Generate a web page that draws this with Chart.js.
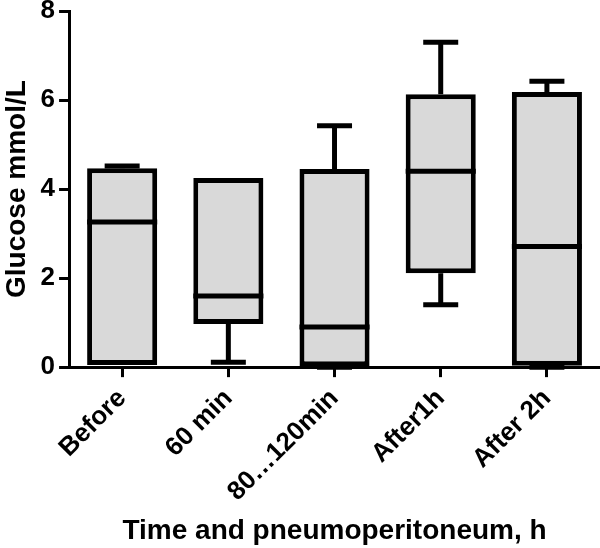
<!DOCTYPE html>
<html>
<head>
<meta charset="utf-8">
<title>Glucose box plot</title>
<script src="https://cdn.jsdelivr.net/npm/chart.js@4.4.1/dist/chart.umd.min.js"></script>
<style>
  html, body { margin: 0; padding: 0; background: #fff; }
  #wrap { width: 600px; height: 548px; position: relative; }
</style>
</head>
<body>
<div id="wrap"><canvas id="boxChart"></canvas></div>
<script>
// values (mmol/L)
const groups = ["Before", "60 min", "80\u2026120min", "After1h", "After 2h"];
const mins = [0.05, 0.11, 0, 1.4, 0];
const q1s = [0.05, 0.97, 0.02, 2.11, 0.03];
const medians = [3.26, 1.6, 0.9, 4.4, 2.71];
const q3s = [4.47, 4.25, 4.45, 6.13, 6.18];
const maxs = [4.52, 4.25, 5.42, 7.3, 6.42];
const yTicks = [0, 2, 4, 6, 8];

const INK = "#000000";
const BOX_FILL = "#d9d9d9";
const LINE_W = 5;
const CAP_W = 35;

Chart.defaults.font.family = "'Liberation Sans', Arial, Helvetica, sans-serif";
Chart.defaults.color = INK;

function hLine(ctx, x1, x2, y) {
  ctx.beginPath();
  ctx.moveTo(x1, y);
  ctx.lineTo(x2, y);
  ctx.stroke();
}

function vLine(ctx, x, y1, y2) {
  ctx.beginPath();
  ctx.moveTo(x, y1);
  ctx.lineTo(x, y2);
  ctx.stroke();
}

// whiskers go behind the boxes, medians on top
const boxParts = {
  id: "boxParts",
  beforeDatasetsDraw(chart) {
    const { ctx } = chart;
    const y = chart.scales.y;
    const bars = chart.getDatasetMeta(0).data;
    ctx.save();
    ctx.strokeStyle = INK;
    ctx.lineWidth = LINE_W;
    ctx.lineCap = "butt";
    bars.forEach((bar, i) => {
      const x = bar.x;
      if (maxs[i] > q3s[i]) {
        vLine(ctx, x, y.getPixelForValue(q3s[i]), y.getPixelForValue(maxs[i]));
        hLine(ctx, x - CAP_W / 2, x + CAP_W / 2, y.getPixelForValue(maxs[i]));
      }
      if (mins[i] < q1s[i]) {
        vLine(ctx, x, y.getPixelForValue(q1s[i]), y.getPixelForValue(mins[i]));
        hLine(ctx, x - CAP_W / 2, x + CAP_W / 2, y.getPixelForValue(mins[i]));
      }
    });
    ctx.restore();
  },
  afterDatasetsDraw(chart) {
    const { ctx } = chart;
    const y = chart.scales.y;
    const bars = chart.getDatasetMeta(0).data;
    ctx.save();
    ctx.strokeStyle = INK;
    ctx.lineWidth = LINE_W;
    bars.forEach((bar, i) => {
      const half = bar.width / 2;
      hLine(ctx, bar.x - half, bar.x + half, y.getPixelForValue(medians[i]));
    });
    ctx.restore();
  }
};

new Chart(document.getElementById("boxChart"), {
  type: "bar",
  data: {
    labels: groups,
    datasets: [{
      data: groups.map((g, i) => [q1s[i], q3s[i]]),
      backgroundColor: BOX_FILL,
      borderColor: INK,
      borderWidth: LINE_W,
      borderSkipped: false,
      barPercentage: 0.66,
      categoryPercentage: 1
    }]
  },
  options: {
    responsive: true,
    maintainAspectRatio: false,
    animation: false,
    layout: { padding: 0 },
    plugins: {
      legend: { display: false },
      tooltip: { enabled: false }
    },
    scales: {
      x: {
        offset: true,
        grid: {
          drawOnChartArea: false,
          offset: false,
          tickLength: 10,
          tickWidth: 3,
          tickColor: INK
        },
        border: { display: true, color: INK, width: 3 },
        ticks: {
          color: INK,
          maxRotation: 45,
          minRotation: 45,
          padding: 6,
          font: { size: 26, weight: "bold" }
        },
        title: {
          display: true,
          text: "Time and pneumoperitoneum, h",
          color: INK,
          padding: { top: 1, bottom: 0 },
          font: { size: 28, weight: "bold" }
        }
      },
      y: {
        min: yTicks[0],
        max: yTicks[yTicks.length - 1],
        afterBuildTicks: (axis) => { axis.ticks = yTicks.map((v) => ({ value: v })); },
        // top "8" sits close to the canvas edge in the original
        afterFit: (axis) => { axis.paddingTop = 11; },
        grid: {
          drawOnChartArea: false,
          tickLength: 10,
          tickWidth: 3,
          tickColor: INK
        },
        border: { display: true, color: INK, width: 3 },
        ticks: {
          color: INK,
          padding: 4,
          font: { size: 26, weight: "bold" }
        },
        title: {
          display: true,
          text: "Glucose mmol/L",
          color: INK,
          padding: { top: 0, bottom: 3 },
          font: { size: 28, weight: "bold" }
        }
      }
    }
  },
  plugins: [boxParts]
});
</script>
</body>
</html>
